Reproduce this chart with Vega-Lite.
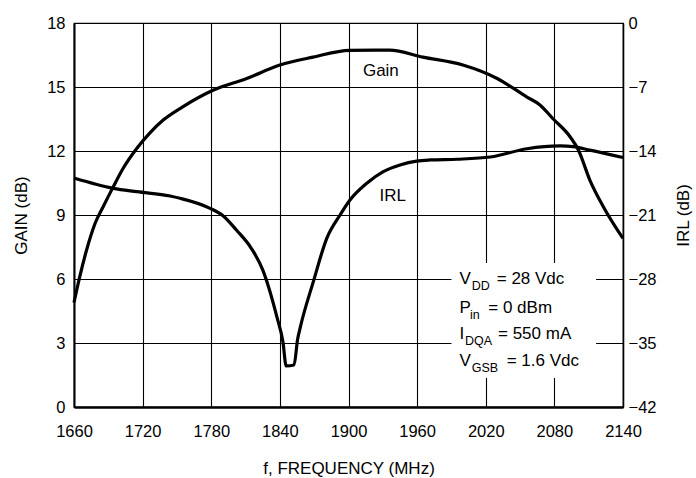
{
  "$schema": "https://vega.github.io/schema/vega-lite/v6.json",
  "width": 549,
  "height": 384,
  "autosize": {"type": "none"},
  "padding": {"left": 74, "top": 23, "right": 73, "bottom": 71},
  "background": "white",
  "config": {
    "font": "Liberation Sans",
    "view": {"stroke": "black", "strokeWidth": 1.2},
    "axis": {
      "labelFont": "Liberation Sans",
      "titleFont": "Liberation Sans",
      "labelFontSize": 16.5,
      "titleFontSize": 17,
      "titleFontWeight": "normal",
      "labelColor": "black",
      "titleColor": "black",
      "domainColor": "black",
      "ticks": false,
      "labelFlush": false,
      "gridColor": "black",
      "gridOpacity": 1,
      "gridWidth": 1.1
    }
  },
  "datasets": {
    "gain": [
      {"f": 1660, "v": 4.9}, {"f": 1665, "v": 6.1}, {"f": 1671, "v": 7.36}, {"f": 1678.4, "v": 8.6},
      {"f": 1685.6, "v": 9.4}, {"f": 1694.4, "v": 10.33}, {"f": 1703, "v": 11.19}, {"f": 1715, "v": 12.13},
      {"f": 1726, "v": 12.83}, {"f": 1738, "v": 13.45}, {"f": 1755, "v": 14.07}, {"f": 1782, "v": 14.86},
      {"f": 1811, "v": 15.4}, {"f": 1840, "v": 16.03}, {"f": 1869, "v": 16.4}, {"f": 1901, "v": 16.72},
      {"f": 1936, "v": 16.73}, {"f": 1965, "v": 16.4}, {"f": 2000, "v": 16.03}, {"f": 2030, "v": 15.4},
      {"f": 2056, "v": 14.53}, {"f": 2067.4, "v": 14.16}, {"f": 2079, "v": 13.5}, {"f": 2093.7, "v": 12.67},
      {"f": 2101, "v": 12.05}, {"f": 2111, "v": 10.64}, {"f": 2122.8, "v": 9.39}, {"f": 2140, "v": 7.9}
    ],
    "irl": [
      {"f": 1660, "v": -16.95}, {"f": 1694.4, "v": -18.08}, {"f": 1715, "v": -18.45}, {"f": 1744, "v": -18.92},
      {"f": 1752.7, "v": -19.17}, {"f": 1779, "v": -20.27}, {"f": 1790.5, "v": -21.1}, {"f": 1802, "v": -22.64},
      {"f": 1815, "v": -24.64}, {"f": 1825, "v": -27.0}, {"f": 1837.5, "v": -32.2}, {"f": 1842.7, "v": -34.9},
      {"f": 1845.5, "v": -37.5}, {"f": 1852.4, "v": -37.4}, {"f": 1855.5, "v": -34.6}, {"f": 1858, "v": -33.2},
      {"f": 1869, "v": -28.4}, {"f": 1881, "v": -23.55}, {"f": 1892.6, "v": -21.0}, {"f": 1901.3, "v": -19.36},
      {"f": 1916, "v": -17.53}, {"f": 1930.4, "v": -16.26}, {"f": 1945, "v": -15.53}, {"f": 1959.6, "v": -15.1},
      {"f": 1971.3, "v": -14.98}, {"f": 1995, "v": -14.9}, {"f": 2024, "v": -14.66}, {"f": 2056, "v": -13.75},
      {"f": 2085, "v": -13.45}, {"f": 2096.5, "v": -13.53}, {"f": 2111, "v": -13.9}, {"f": 2140, "v": -14.72}
    ],
    "box": [{"f": 1990, "f2": 2116.5, "v": 1.36, "v2": 6.75}],
    "curveLabels": [
      {"f": 1928.3, "v": 15.76, "t": "Gain"},
      {"f": 1938.6, "v": 9.9, "t": "IRL"}
    ],
    "annoBase": [
      {"f": 1997, "v": 5.99, "t": "V"},
      {"f": 1997, "v": 4.62, "t": "P"},
      {"f": 1997, "v": 3.42, "t": "I"},
      {"f": 1997, "v": 2.17, "t": "V"}
    ],
    "annoSub": [
      {"f": 2007.7, "v": 5.99, "t": "DD"},
      {"f": 2006.2, "v": 4.62, "t": "in"},
      {"f": 2001.9, "v": 3.42, "t": "DQA"},
      {"f": 2007.7, "v": 2.17, "t": "GSB"}
    ],
    "annoRest": [
      {"f": 2029.6, "v": 5.99, "t": "= 28 Vdc"},
      {"f": 2022.2, "v": 4.62, "t": "= 0 dBm"},
      {"f": 2030.7, "v": 3.42, "t": "= 550 mA"},
      {"f": 2038.3, "v": 2.17, "t": "= 1.6 Vdc"}
    ]
  },
  "layer": [
    {
      "encoding": {
        "x": {
          "field": "f", "type": "quantitative",
          "scale": {"domain": [1660, 2140], "nice": false, "zero": false},
          "title": "f, FREQUENCY (MHz)",
          "axis": {
            "values": [1660, 1720, 1780, 1840, 1900, 1960, 2020, 2080, 2140],
            "grid": true, "domainWidth": 2.5, "labelPadding": 16, "titlePadding": 21,
            "format": "d"
          }
        },
        "y": {
          "field": "v", "type": "quantitative",
          "scale": {"domain": [0, 18], "nice": false, "zero": false},
          "title": "GAIN (dB)",
          "axis": {
            "values": [0, 3, 6, 9, 12, 15, 18],
            "grid": true, "domainWidth": 2, "labelPadding": 9, "titlePadding": 16
          }
        }
      },
      "layer": [
        {
          "data": {"name": "gain"},
          "mark": {"type": "line", "color": "black", "strokeWidth": 3.2, "interpolate": "monotone"}
        },
        {
          "data": {"name": "box"},
          "mark": {"type": "rect", "fill": "white", "stroke": null},
          "encoding": {"x2": {"field": "f2"}, "y2": {"field": "v2"}}
        },
        {
          "data": {"name": "curveLabels"},
          "mark": {"type": "text", "fontSize": 17, "align": "center", "baseline": "middle", "color": "black"},
          "encoding": {"text": {"field": "t"}}
        },
        {
          "data": {"name": "annoBase"},
          "mark": {"type": "text", "fontSize": 17, "align": "left", "baseline": "middle", "color": "black"},
          "encoding": {"text": {"field": "t"}}
        },
        {
          "data": {"name": "annoSub"},
          "mark": {"type": "text", "fontSize": 12.5, "align": "left", "baseline": "middle", "dy": 7, "color": "black"},
          "encoding": {"text": {"field": "t"}}
        },
        {
          "data": {"name": "annoRest"},
          "mark": {"type": "text", "fontSize": 17, "align": "left", "baseline": "middle", "color": "black"},
          "encoding": {"text": {"field": "t"}}
        }
      ]
    },
    {
      "data": {"name": "irl"},
      "mark": {"type": "line", "color": "black", "strokeWidth": 3.2, "interpolate": "monotone"},
      "encoding": {
        "x": {"field": "f", "type": "quantitative", "scale": {"domain": [1660, 2140], "nice": false, "zero": false}, "title": "f, FREQUENCY (MHz)"},
        "y": {
          "field": "v", "type": "quantitative",
          "scale": {"domain": [-42, 0], "nice": false, "zero": false},
          "title": "IRL (dB)",
          "axis": {
            "orient": "right",
            "values": [-42, -35, -28, -21, -14, -7, 0],
            "grid": false, "domainWidth": 1.5, "labelPadding": 5, "titlePadding": 20,
            "titleAngle": 270, "titleBaseline": "top"
          }
        }
      }
    }
  ],
  "resolve": {"scale": {"y": "independent"}}
}
